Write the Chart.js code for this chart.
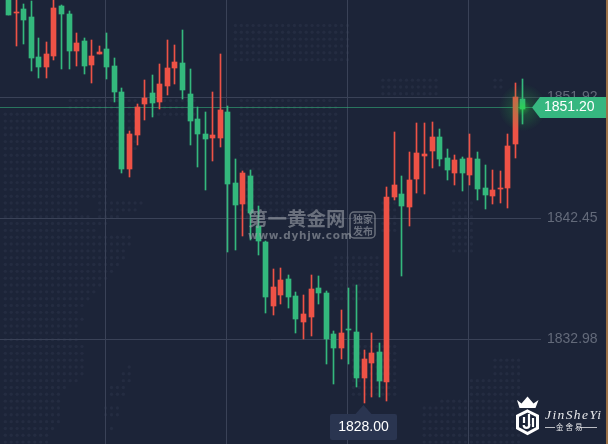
<!DOCTYPE html>
<html>
<head>
<meta charset="utf-8">
<style>
  html, body { margin: 0; padding: 0; background: #1c2438; }
  canvas { display: block; }
</style>
<script src="https://cdn.jsdelivr.net/npm/chart.js@4/dist/chart.umd.min.js"></script>
</head>
<body>
<canvas id="candles" width="608" height="444"></canvas>
<script>
/* Candle data */
const opens = [1859.94,1858.53,1858.85,1858.22,1855.09,1854.31,1855.17,1859.08,1858.45,1855.56,1856.34,1854.46,1855.32,1855.71,1854.38,1852.35,1846.32,1848.98,1851.41,1852.27,1851.57,1852.82,1854.23,1854.62,1852.19,1850.24,1849.06,1848.75,1848.75,1850.78,1845.23,1843.58,1845.77,1841.86,1840.61,1835.60,1836.46,1837.71,1836.38,1834.35,1834.74,1837.01,1836.62,1833.41,1832.31,1833.80,1833.56,1829.96,1831.14,1832.00,1829.65,1844.13,1844.37,1843.35,1845.54,1847.34,1847.73,1848.83,1847.18,1846.01,1847.11,1845.85,1847.11,1844.84,1844.21,1844.76,1844.84,1848.28,1851.80];
const highs = [1860.33,1860.10,1859.24,1859.47,1856.58,1856.26,1859.71,1859.16,1858.69,1856.97,1856.58,1856.42,1855.95,1856.97,1855.01,1852.66,1849.30,1851.41,1853.29,1853.68,1854.54,1856.42,1856.03,1857.20,1854.15,1851.18,1850.78,1852.35,1855.32,1851.25,1847.11,1846.17,1846.24,1843.43,1840.69,1838.50,1838.57,1838.03,1836.70,1836.46,1838.03,1837.95,1836.77,1833.64,1835.29,1837.01,1837.24,1832.16,1833.49,1832.70,1844.91,1849.22,1845.77,1847.65,1849.92,1849.92,1850.00,1849.45,1847.89,1847.42,1847.26,1849.06,1847.65,1846.64,1846.24,1846.17,1849.06,1853.05,1853.37];
const lows = [1858.38,1855.95,1856.11,1853.99,1853.44,1853.44,1854.85,1854.15,1854.15,1854.38,1853.76,1853.05,1855.32,1853.37,1851.57,1846.01,1845.70,1848.20,1850.16,1850.39,1851.02,1852.11,1852.98,1851.80,1848.20,1846.48,1844.68,1846.95,1848.04,1839.83,1839.98,1841.08,1840.77,1839.59,1835.05,1834.89,1835.76,1835.44,1833.49,1833.02,1833.25,1835.76,1831.06,1829.49,1831.45,1831.06,1829.26,1828.00,1828.48,1828.48,1828.16,1843.90,1837.95,1841.86,1844.44,1844.37,1846.40,1846.56,1845.46,1845.07,1844.60,1845.07,1843.90,1843.19,1843.58,1843.66,1843.27,1847.18,1849.84];
const closes = [1858.38,1858.61,1857.98,1855.01,1854.31,1855.32,1858.92,1858.45,1855.56,1856.18,1854.38,1855.17,1855.48,1854.31,1852.35,1846.32,1849.06,1851.18,1851.88,1851.49,1852.98,1854.23,1854.70,1852.51,1850.08,1849.06,1848.67,1848.98,1850.94,1845.15,1843.50,1846.01,1842.88,1840.69,1836.30,1837.09,1837.63,1836.30,1834.58,1834.97,1836.93,1836.62,1833.02,1832.31,1833.49,1833.72,1829.96,1831.45,1831.92,1829.73,1844.13,1845.07,1843.43,1845.46,1847.57,1847.50,1848.83,1847.11,1846.24,1847.03,1846.01,1847.18,1844.76,1844.29,1844.68,1844.84,1848.12,1851.96,1851.02];
const priceTicks = [1832.98, 1842.45, 1851.92];
const timeTicks = [12.886, 28.886, 44.886, 60.886];
const lastPrice = 1851.20;
const lowestPrice = 1828.00;
const lowestIndex = lows.indexOf(lowestPrice);

const UP = '#ee5246';
const DOWN = '#34b87d';
const candleColors = closes.map((c, i) => c >= opens[i] ? UP : DOWN);

/* Faint dot map behind the chart: [x0, y0, x1, y1] blocks */
const mapBlocks = [
  [0,200,78,206],[98,200,143,206],[0,207,78,213],[98,207,136,213],[0,214,90,220],[98,214,119,220],
  [0,221,108,227],[0,228,97,234],[0,234,131,247],[0,248,125,261],[0,262,120,268],[0,269,114,275],
  [0,276,108,282],[0,283,102,289],[0,290,96,296],[0,297,90,303],[0,304,84,310],[0,311,78,317],
  [0,318,84,324],[0,325,78,344],[0,345,84,375],[125,365,131,375],[118,372,131,382],[0,376,78,382],
  [106,382,125,395],[0,383,66,389],[0,390,60,423],[100,403,120,420],[106,423,112,430],[0,424,54,430],
  [0,431,48,444],
  [0,110,110,199],[66,100,140,135],[110,135,140,150],[150,95,200,120],[240,97,340,220],[233,20,350,63],
  [380,80,440,100],[380,197,400,237],[453,203,477,257],[335,255,380,300],[393,333,413,338],
  [352,345,400,398],[490,75,505,90],[420,405,520,444],[440,395,520,405],[470,375,520,395],[495,355,520,375]
];

function drawDots(ctx) {
  ctx.save();
  ctx.fillStyle = '#242c41';
  const seen = {};
  mapBlocks.forEach(b => {
    for (let r = 0; r < 66; r++) {
      const y = 5 + r * 6.83;
      if (y < b[1] || y > b[3]) continue;
      for (let c = 0; c < 104; c++) {
        const x = 5.3 + c * 5.9;
        if (x < b[0] || x > b[2] || seen[r + '_' + c]) continue;
        seen[r + '_' + c] = 1;
        ctx.beginPath();
        ctx.arc(x, y, 1.7, 0, Math.PI * 2);
        ctx.fill();
      }
    }
  });
  ctx.restore();
}

function drawWatermark(ctx) {
  ctx.save();
  ctx.globalAlpha = 0.62;
  ctx.fillStyle = '#9a9ea6';
  ctx.strokeStyle = '#9a9ea6';
  ctx.textBaseline = 'middle';
  ctx.font = 'bold 19.5px "Noto Sans CJK SC"';
  ctx.fillText('第一黄金网', 248, 219);
  ctx.font = 'bold 10.5px "DejaVu Sans"';
  ctx.letterSpacing = '0.7px';
  ctx.fillText('www.dyhjw.com', 248, 236);
  ctx.letterSpacing = '0px';
  ctx.font = 'bold 10px "Noto Sans CJK SC"';
  ctx.fillText('独家', 353, 219);
  ctx.fillText('发布', 353, 231);
  ctx.lineWidth = 1.5;
  ctx.beginPath();
  ctx.roundRect(350, 212, 25, 26, 4);
  ctx.stroke();
  ctx.restore();
}

function drawLogo(ctx) {
  ctx.save();
  ctx.fillStyle = '#ffffff';
  ctx.strokeStyle = '#ffffff';
  // crown
  ctx.beginPath();
  ctx.moveTo(517, 400); ctx.lineTo(521.5, 403.5); ctx.lineTo(527.5, 396.5);
  ctx.lineTo(533.5, 403.5); ctx.lineTo(538.5, 400); ctx.lineTo(535.5, 408);
  ctx.lineTo(519.5, 408); ctx.closePath();
  ctx.fill();
  // shield
  ctx.lineWidth = 3;
  ctx.beginPath();
  ctx.moveTo(527.5, 411); ctx.lineTo(537.5, 416); ctx.lineTo(537.5, 428);
  ctx.lineTo(527.5, 433.5); ctx.lineTo(517.5, 428); ctx.lineTo(517.5, 416);
  ctx.closePath();
  ctx.stroke();
  // J
  ctx.lineWidth = 2.2;
  ctx.beginPath();
  ctx.moveTo(529, 414); ctx.lineTo(529, 425);
  ctx.arc(526.5, 425, 2.8, 0, Math.PI);
  ctx.moveTo(524, 417); ctx.lineTo(524, 423);
  ctx.moveTo(533, 418); ctx.lineTo(533, 427);
  ctx.stroke();
  // name
  ctx.textBaseline = 'middle';
  ctx.globalAlpha = 0.9;
  ctx.font = 'italic 13.5px "Liberation Serif"';
  ctx.letterSpacing = '1.4px';
  ctx.fillText('JinSheYi', 545, 415);
  ctx.letterSpacing = '2px';
  ctx.font = '7.5px "Noto Sans CJK SC"';
  ctx.fillText('金舍易', 556, 427);
  ctx.letterSpacing = '0px';
  ctx.lineWidth = 1;
  ctx.globalAlpha = 0.7;
  ctx.beginPath();
  ctx.moveTo(545, 427.5); ctx.lineTo(555, 427.5);
  ctx.moveTo(580, 427.5); ctx.lineTo(597, 427.5);
  ctx.stroke();
  ctx.restore();
}

const candleExtras = {
  id: 'candleExtras',
  beforeDraw(chart) {
    drawDots(chart.ctx);
  },
  afterDatasetsUpdate(chart) {
    // snap bars to whole pixels so the bodies and wicks stay crisp
    chart.data.datasets.forEach((ds, di) => {
      chart.getDatasetMeta(di).data.forEach(el => {
        el.x = Math.round(el.x) + 0.5;
        el.y = Math.round(el.y);
        el.base = Math.round(el.base);
        if (el.base === el.y) el.base = el.y + 1;
      });
    });
  },
  beforeDatasetsDraw(chart) {
    const ctx = chart.ctx;
    const y = Math.round(chart.scales.y.getPixelForValue(lastPrice)) + 0.5;
    ctx.save();
    ctx.strokeStyle = 'rgba(52,184,125,0.55)';
    ctx.lineWidth = 1;
    ctx.beginPath();
    ctx.moveTo(0, y);
    ctx.lineTo(534, y);
    ctx.stroke();
    ctx.restore();
  },
  afterDatasetsDraw(chart) {
    const ctx = chart.ctx;
    const xs = chart.scales.x;
    const ys = chart.scales.y;
    const lastX = Math.round(xs.getPixelForValue(closes.length - 1)) + 0.5;
    const lastY = Math.round(ys.getPixelForValue(lastPrice)) + 0.5;

    // glow on the running candle
    const glow = ctx.createRadialGradient(lastX, lastY, 1, lastX, lastY, 24);
    glow.addColorStop(0, 'rgba(40,225,60,0.55)');
    glow.addColorStop(0.3, 'rgba(40,200,70,0.22)');
    glow.addColorStop(1, 'rgba(40,200,70,0)');
    ctx.fillStyle = glow;
    ctx.fillRect(lastX - 24, lastY - 24, 48, 48);

    drawWatermark(ctx);
    drawLogo(ctx);

    // price tag on the right
    ctx.fillStyle = '#36b780';
    ctx.beginPath();
    ctx.moveTo(532, lastY);
    ctx.lineTo(540, lastY - 10.5);
    ctx.lineTo(606, lastY - 10.5);
    ctx.lineTo(606, lastY + 10.5);
    ctx.lineTo(540, lastY + 10.5);
    ctx.closePath();
    ctx.fill();
    ctx.fillStyle = '#ffffff';
    ctx.font = '14px "Liberation Sans"';
    ctx.textBaseline = 'middle';
    ctx.textAlign = 'left';
    ctx.fillText(lastPrice.toFixed(2), 544, lastY);

    // lowest price callout
    const lowX = xs.getPixelForValue(lowestIndex);
    const boxTop = 414;
    ctx.fillStyle = '#2a3550';
    ctx.beginPath();
    ctx.moveTo(lowX, 405);
    ctx.lineTo(lowX + 8, boxTop);
    ctx.lineTo(lowX - 8, boxTop);
    ctx.closePath();
    ctx.fill();
    ctx.beginPath();
    ctx.roundRect(330, boxTop, 67, 26, 2);
    ctx.fill();
    ctx.fillStyle = '#ffffff';
    ctx.textAlign = 'center';
    ctx.fillText(lowestPrice.toFixed(2), 363.5, boxTop + 13.5);

    // thin right edge
    ctx.fillStyle = '#9c7248';
    ctx.fillRect(606, 0, 2, 444);
  }
};

/* Build datasets: wicks behind, bodies in front */
const wickData = closes.map((c, i) => ({ x: i, y: [lows[i], highs[i]] }));
const bodyData = closes.map((c, i) => ({ x: i, y: [opens[i], closes[i]] }));

new Chart(document.getElementById('candles'), {
  type: 'bar',
  data: {
    datasets: [
      { label: 'wick', data: wickData, backgroundColor: candleColors, barThickness: 1, grouped: false, borderWidth: 0 },
      { label: 'body', data: bodyData, backgroundColor: candleColors, barThickness: 5, grouped: false, borderWidth: 0 }
    ]
  },
  plugins: [candleExtras],
  options: {
    responsive: false,
    animation: false,
    layout: { padding: 0 },
    plugins: { legend: { display: false }, tooltip: { enabled: false } },
    scales: {
      x: {
        type: 'linear',
        min: -1.0645,
        max: 70.47,
        offset: false,
        afterBuildTicks(scale) { scale.ticks = timeTicks.map(v => ({ value: v })); },
        afterFit(scale) {
          scale.height = 0;
          scale.paddingLeft = 0;
          scale.paddingRight = 0;
        },
        ticks: { display: false },
        border: { display: false },
        grid: { color: '#3a4257', lineWidth: 1, drawTicks: false, offset: false }
      },
      y: {
        position: 'right',
        min: 1824.80,
        max: 1859.55,
        afterBuildTicks(scale) { scale.ticks = priceTicks.map(v => ({ value: v })); },
        afterFit(scale) {
          scale.width = 67;
          scale.paddingTop = 0;
          scale.paddingBottom = 0;
        },
        border: { display: false },
        grid: { color: '#3a4257', lineWidth: 1, drawTicks: false },
        ticks: {
          padding: 6,
          autoSkip: false,
          color: '#636a7a',
          font: { family: '"Liberation Sans"', size: 14 },
          callback: v => v.toFixed(2)
        }
      }
    }
  }
});
</script>
</body>
</html>
